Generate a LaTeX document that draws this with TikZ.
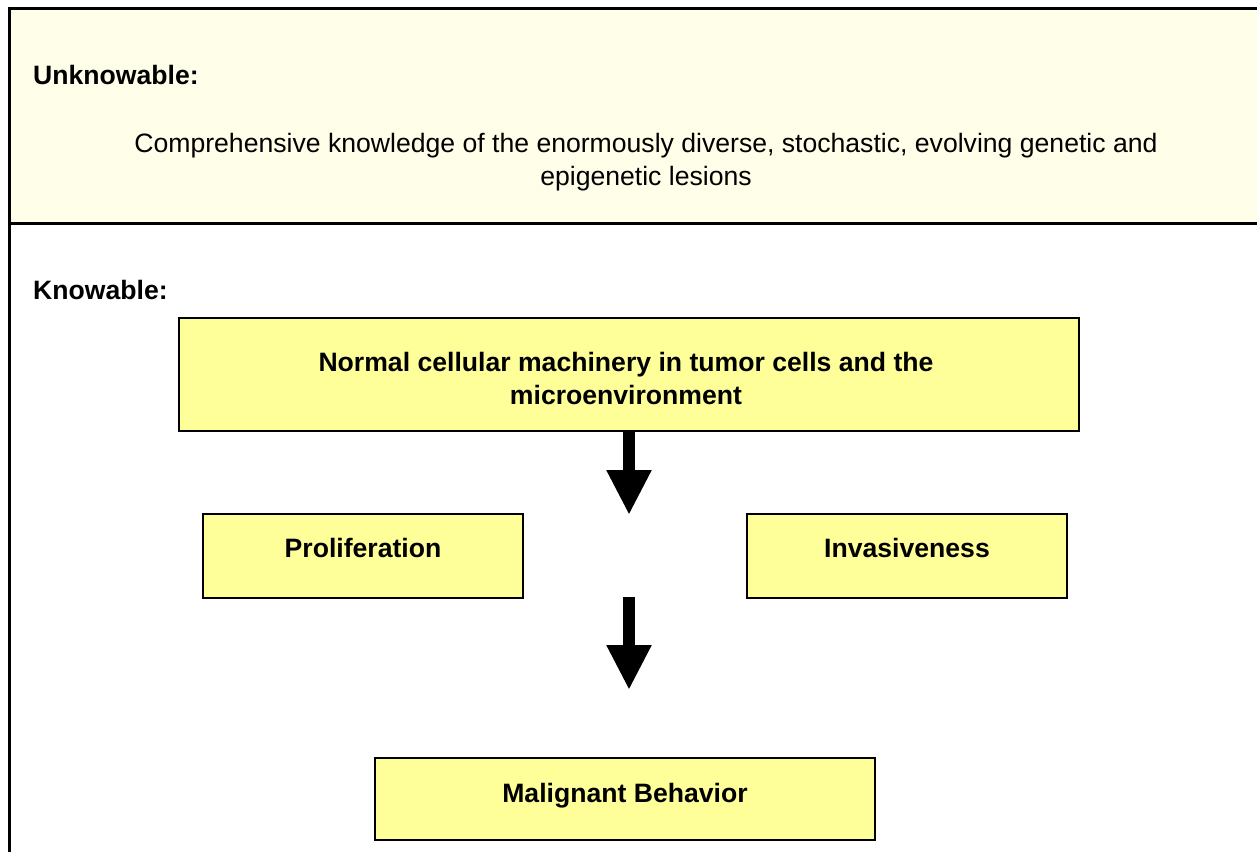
\documentclass[tikz,border=0pt]{standalone}
\usepackage{fontspec}
\setmainfont{Liberation Sans}
\usetikzlibrary{arrows.meta}
\definecolor{paleyel}{HTML}{FFFEE8}
\definecolor{boxyel}{HTML}{FFFF99}
\begin{document}
\begin{tikzpicture}[x=1pt,y=-1pt,
  frame/.style={line width=3pt},
  ybox/.style={draw=black, line width=1.6pt, fill=boxyel, inner sep=0pt},
  lbl/.style={font=\fontsize{26.6}{33}\selectfont\bfseries, align=center, inner sep=0pt},
  body/.style={font=\fontsize{26.6}{33}\selectfont, align=center, inner sep=0pt},
  bigarrow/.style={line width=12pt, -{Triangle[width=42pt,length=45pt]}}
]
\useasboundingbox (0,0) rectangle (1257,852);
% frame of the table
\fill[paleyel] (9,8) rectangle (1257,223);
\draw[frame] (1257,8) -- (9,8) -- (9,852);
\draw[frame] (9,223) -- (1257,223);
% top section
\node[lbl, anchor=base west] (unk) at (33,84) {Unknowable:};
\node[body] (comp) at (646,162) {Comprehensive knowledge of the enormously diverse, stochastic, evolving genetic and\\epigenetic lesions};
% bottom section
\node[lbl, anchor=base west] (kno) at (33,299) {Knowable:};
\node[ybox, minimum width=900pt, minimum height=113pt] (normal) at (629,374.5) {};
\node[lbl] (normalt) at (626,378) {Normal cellular machinery in tumor cells and the\\microenvironment};
\node[ybox, minimum width=320pt, minimum height=84pt] (prolif) at (363,556) {};
\node[lbl, anchor=base] (prolift) at (363,557) {Proliferation};
\node[ybox, minimum width=320pt, minimum height=84pt] (invas) at (907,556) {};
\node[lbl, anchor=base] (invast) at (907,557) {Invasiveness};
\node[ybox, minimum width=500pt, minimum height=82pt] (malig) at (625,799) {};
\node[lbl, anchor=base] (maligt) at (625,802) {Malignant Behavior};
% arrows
\coordinate (a1tip) at (629,515);
\coordinate (a2start) at (629,597);
\coordinate (a2tip) at (629,690);
\draw[bigarrow] (normal.south) -- (a1tip);
\draw[bigarrow] (a2start) -- (a2tip);
\end{tikzpicture}
\end{document}
